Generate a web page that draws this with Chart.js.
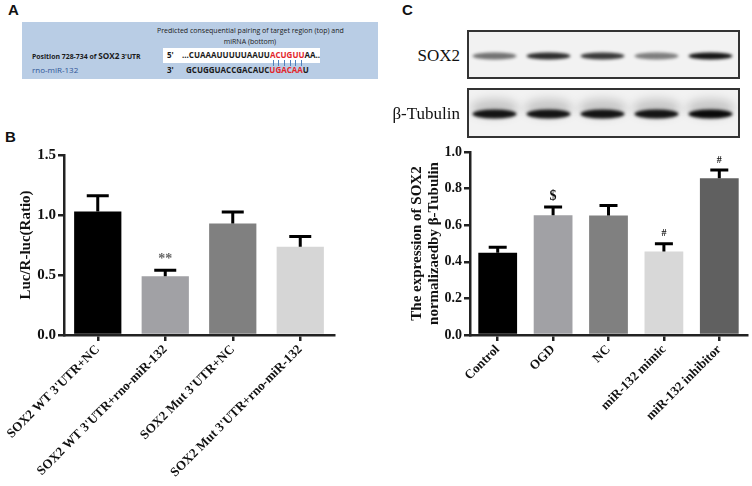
<!DOCTYPE html>
<html>
<head>
<meta charset="utf-8">
<script src="https://cdn.jsdelivr.net/npm/chart.js@4.4.0/dist/chart.umd.min.js"></script>
<style>
  body { margin:0; background:#fff; width:752px; height:486px; position:relative; overflow:hidden; font-family:"Liberation Serif", serif; }
  .lab { position:absolute; font:bold 15px "Liberation Sans", Arial, sans-serif; color:#111; }
  .t { position:absolute; white-space:nowrap; font-family:"Open Sans", sans-serif; color:#1a1a1a; }
  #pa { position:absolute; left:22px; top:22px; width:356px; height:57px; background:#b9cde5; }
  .wbox { position:absolute; left:163px; top:48px; width:157px; height:15px; background:#fff; }
  .r { color:#e3262b; }
  .p { position:relative; }
  .p::after { content:''; position:absolute; left:50%; top:100%; width:1px; height:6px; background:#4f81bd; }
  .blotlab { position:absolute; font-size:17px; color:#111; text-align:right; width:120px; }
  canvas { position:absolute; }
</style>
</head>
<body>
<div class="lab" style="left:8px;top:1px">A</div>
<div class="lab" style="left:5px;top:128px">B</div>
<div class="lab" style="left:402px;top:1px">C</div>

<div id="pa"></div>
<div class="wbox"></div>
<div class="t" style="left:157px;top:25px;width:186px;text-align:center;font-size:7px;line-height:11px">Predicted consequential pairing of target region (top) and<br>miRNA (bottom)</div>
<div class="t" style="left:32px;top:50px;font-size:6.9px;font-weight:bold">Position 728-734 of <span style="font-size:8.2px">SOX2</span> 3'UTR</div>
<div class="t" style="left:32px;top:64px;font-size:8px;color:#2f5597">rno-miR-132</div>
<div class="t" style="left:167px;top:49px;font-size:8px;font-weight:bold">5'</div>
<div class="t" style="left:182px;top:49px;font-size:8px;font-weight:bold">...CUAAAUUUUUAAUU<span class="r"><span class="p">A</span><span class="p">C</span><span class="p">U</span><span class="p">G</span><span class="p">U</span><span class="p">U</span></span>AA..</div>
<div class="t" style="left:167px;top:64px;font-size:8px;font-weight:bold">3'</div>
<div class="t" style="left:186px;top:64px;font-size:8px;font-weight:bold">GCUGGUACCGACAUC<span class="r">UGACAA</span>U</div>

<canvas id="blot" width="290" height="120" style="left:460px;top:25px"></canvas>
<div class="blotlab" style="left:340px;top:46px">SOX2</div>
<div class="blotlab" style="left:340px;top:104px">&beta;-Tubulin</div>

<canvas id="chartB" width="376" height="346" style="left:0;top:140px"></canvas>
<canvas id="chartC" width="376" height="346" style="left:376px;top:140px"></canvas>

<script>
// panel B: dual luciferase
var lucLabels = ["SOX2 WT 3'UTR+NC", "SOX2 WT 3'UTR+rno-miR-132", "SOX2 Mut 3'UTR+NC", "SOX2 Mut 3'UTR+rno-miR-132"];
var lucMean = [1.03, 0.49, 0.93, 0.735];
var lucErr = [0.13, 0.05, 0.095, 0.085];
var lucMarks = ["", "**", "", ""];
var lucColors = ["#000000", "#a1a1a5", "#808080", "#d6d6d6"];
var lucTicks = [0, 0.5, 1.0, 1.5];

// panel C: SOX2 / beta-tubulin
var soxLabels = ["Control", "OGD", "NC", "miR-132 mimic", "miR-132 inhibitor"];
var soxMean = [0.45, 0.655, 0.653, 0.456, 0.856];
var soxErr = [0.03, 0.045, 0.055, 0.042, 0.045];
var soxMarks = ["", "$", "", "#", "#"];
var soxColors = ["#000000", "#a1a1a5", "#808080", "#d8d8d8", "#606060"];
var soxTicks = [0, 0.2, 0.4, 0.6, 0.8, 1.0];

// western blot band darkness (0..1)
var sox2Band = [0.55, 0.85, 0.8, 0.5, 0.95];
var tubBand = [0.95, 0.95, 0.95, 0.95, 1.0];

/*
** error bars + significance marks
*/
var errorBars = {
    id: 'errorBars',
    afterDatasetsDraw: function (chart, args, o) {
        var ctx = chart.ctx, y = chart.scales.y;
        ctx.save();
        ctx.strokeStyle = '#000';
        ctx.lineWidth = 3;
        chart.getDatasetMeta(0).data.forEach(function (bar, i) {
            var top = y.getPixelForValue(o.mean[i] + o.err[i]);
            ctx.beginPath();
            ctx.moveTo(bar.x, bar.y);
            ctx.lineTo(bar.x, top);
            ctx.moveTo(bar.x - o.cap, top);
            ctx.lineTo(bar.x + o.cap, top);
            ctx.stroke();
            var m = o.marks[i];
            if (m) {
                ctx.fillStyle = m == '**' ? '#666' : '#111';
                ctx.font = 'bold ' + (m == '#' ? 10 : 14) + 'px "Liberation Serif"';
                ctx.textAlign = 'center';
                ctx.textBaseline = 'bottom';
                ctx.fillText(m, bar.x, top - (m == '#' ? 5 : 4));
            }
        });
        ctx.restore();
    }
};

function makeChart(id, labels, mean, err, marks, colors, ticks, title, pad, yWidth, tickSize, cap) {
    return new Chart(document.getElementById(id), {
        type: 'bar',
        data: {
            labels: labels,
            datasets: [{ data: mean, backgroundColor: colors, borderWidth: 0,
                         barPercentage: 0.7, categoryPercentage: 1 }]
        },
        options: {
            responsive: false,
            animation: false,
            layout: { padding: pad },
            plugins: {
                legend: { display: false },
                tooltip: { enabled: false },
                errorBars: { mean: mean, err: err, marks: marks, cap: cap }
            },
            scales: {
                x: {
                    grid: { display: true, drawOnChartArea: false, offset: false, color: '#222', lineWidth: 2.5, tickLength: 6 },
                    border: { color: '#222', width: 2.5 },
                    ticks: { autoSkip: false, minRotation: 45, maxRotation: 45, padding: 1, color: '#111',
                             font: { family: 'Liberation Serif', size: 13, weight: 'bold' } },
                    afterFit: function (s) { s.height = 151; }
                },
                y: {
                    min: ticks[0], max: ticks[ticks.length - 1],
                    afterBuildTicks: function (s) { s.ticks = ticks.map(function (v) { return { value: v }; }); },
                    grid: { display: true, drawOnChartArea: false, color: '#222', lineWidth: 2.5, tickLength: 6 },
                    border: { color: '#222', width: 2.5 },
                    ticks: { padding: 2, color: '#111', callback: function (v) { return v.toFixed(1); },
                             font: { family: 'Liberation Serif', size: tickSize, weight: 'bold' } },
                    title: { display: true, text: title, color: '#111', padding: 0,
                             font: { family: 'Liberation Serif', size: 15, weight: 'bold', lineHeight: 1.15 } },
                    afterFit: function (s) { s.width = yWidth; }
                }
            }
        },
        plugins: [errorBars]
    });
}

makeChart('chartB', lucLabels, lucMean, lucErr, lucMarks, lucColors, lucTicks,
          'Luc/R-luc(Ratio)', { left: 17, top: 15, right: 42, bottom: 0 }, 47, 15, 11);
makeChart('chartC', soxLabels, soxMean, soxErr, soxMarks, soxColors, soxTicks,
          ['The expression of SOX2', 'normalizaedby \u03b2-Tubulin'], { left: 32, top: 12, right: 5, bottom: 0 }, 62, 14, 9);

/*
** western blot strips
*/
var bctx = document.getElementById('blot').getContext('2d');

function strip(y0, h, vals, bandY, bandH, haze) {
    bctx.fillStyle = '#f2f2f2';
    bctx.fillRect(8, y0, 271, h);
    bctx.save();
    bctx.beginPath();
    bctx.rect(8, y0, 271, h);
    bctx.clip();
    vals.forEach(function (v, i) {
        var cx = 34.5 + i * 54;
        if (haze) {
            bctx.filter = 'blur(5px)';
            bctx.fillStyle = 'rgba(0,0,0,0.18)';
            bctx.beginPath();
            bctx.ellipse(cx, bandY - 6, 24, 9, 0, 0, Math.PI * 2);
            bctx.fill();
        }
        bctx.filter = 'blur(1.6px)';
        bctx.fillStyle = 'rgba(10,10,10,' + v + ')';
        bctx.beginPath();
        bctx.ellipse(cx, bandY, 22, bandH / 2, 0, 0, Math.PI * 2);
        bctx.fill();
    });
    bctx.restore();
    bctx.filter = 'none';
    bctx.strokeStyle = '#333';
    bctx.lineWidth = 2;
    bctx.strokeRect(8, y0, 271, h);
}

strip(6, 47, sox2Band, 31, 7, false);
strip(64, 48, tubBand, 89, 9, true);
</script>
</body>
</html>
